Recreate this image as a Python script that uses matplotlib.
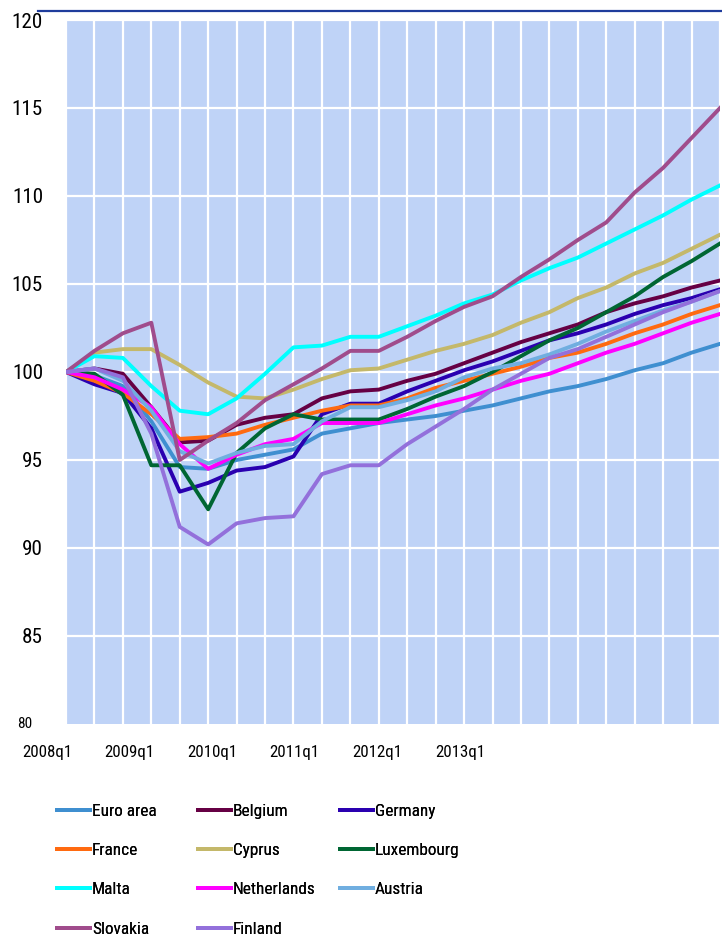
import matplotlib
matplotlib.use("Agg")
import matplotlib.pyplot as plt
from matplotlib.lines import Line2D
from matplotlib import font_manager as fm
import numpy as np

quarters = ['2008q1', '2008q2', '2008q3', '2008q4', '2009q1', '2009q2', '2009q3', '2009q4',
            '2010q1', '2010q2', '2010q3', '2010q4', '2011q1', '2011q2', '2011q3', '2011q4',
            '2012q1', '2012q2', '2012q3', '2012q4', '2013q1', '2013q2', '2013q3', '2013q4']
x_labels = ['2008q1', '2009q1', '2010q1', '2011q1', '2012q1', '2013q1']
y_ticks = [80, 85, 90, 95, 100, 105, 110, 115, 120]

euro_area = [100, 99.8, 99.2, 97.2, 94.6, 94.5, 95.0, 95.3, 95.6, 96.5, 96.8, 97.1,
             97.3, 97.5, 97.8, 98.1, 98.5, 98.9, 99.2, 99.6, 100.1, 100.5, 101.1, 101.6]
belgium = [100, 100.2, 99.9, 98.0, 96.0, 96.1, 97.0, 97.4, 97.6, 98.5, 98.9, 99.0,
           99.5, 99.9, 100.5, 101.1, 101.7, 102.2, 102.7, 103.4, 103.9, 104.3, 104.8, 105.2]
germany = [100, 99.3, 98.8, 96.8, 93.2, 93.7, 94.4, 94.6, 95.2, 97.6, 98.2, 98.2,
           98.9, 99.5, 100.1, 100.6, 101.2, 101.8, 102.2, 102.7, 103.3, 103.8, 104.2, 104.7]
france = [100, 99.5, 98.8, 97.6, 96.2, 96.3, 96.5, 97.0, 97.4, 97.8, 98.1, 98.1,
          98.5, 99.1, 99.5, 99.9, 100.3, 100.8, 101.1, 101.6, 102.2, 102.7, 103.3, 103.8]
cyprus = [100, 101.1, 101.3, 101.3, 100.4, 99.4, 98.6, 98.5, 99.0, 99.6, 100.1, 100.2,
          100.7, 101.2, 101.6, 102.1, 102.8, 103.4, 104.2, 104.8, 105.6, 106.2, 107.0, 107.8]
luxembourg = [100, 99.9, 98.7, 94.7, 94.7, 92.2, 95.4, 96.8, 97.6, 97.3, 97.3, 97.3,
              97.9, 98.6, 99.2, 100.0, 100.9, 101.8, 102.5, 103.4, 104.3, 105.4, 106.3, 107.3]
malta = [100, 100.9, 100.8, 99.2, 97.8, 97.6, 98.5, 99.9, 101.4, 101.5, 102.0, 102.0,
         102.6, 103.2, 103.9, 104.4, 105.2, 105.9, 106.5, 107.3, 108.1, 108.9, 109.8, 110.6]
netherlands = [100, 99.7, 99.0, 98.0, 95.9, 94.5, 95.3, 95.9, 96.2, 97.1, 97.1, 97.1,
               97.6, 98.1, 98.5, 99.0, 99.5, 99.9, 100.5, 101.1, 101.6, 102.2, 102.8, 103.3]
austria = [100, 100.2, 99.5, 97.8, 95.5, 94.8, 95.4, 95.8, 95.9, 97.2, 98.0, 98.0,
           98.4, 98.9, 99.7, 100.2, 100.5, 101.0, 101.6, 102.3, 102.9, 103.5, 104.0, 104.6]
slovakia = [100, 101.2, 102.2, 102.8, 95.0, 96.1, 97.1, 98.4, 99.3, 100.2, 101.2, 101.2,
            102.0, 102.9, 103.7, 104.3, 105.4, 106.4, 107.5, 108.5, 110.2, 111.6, 113.3, 115.0]
finland = [100, 100.2, 99.7, 96.5, 91.2, 90.2, 91.4, 91.7, 91.8, 94.2, 94.7, 94.7,
           95.9, 96.9, 97.9, 99.0, 99.9, 100.8, 101.3, 102.0, 102.7, 103.4, 104.0, 104.6]

series = [
    ('Euro area', euro_area, '#3F8FD0'),
    ('Belgium', belgium, '#660044'),
    ('Germany', germany, '#2A00B0'),
    ('France', france, '#FF6A10'),
    ('Cyprus', cyprus, '#C4B86A'),
    ('Luxembourg', luxembourg, '#006633'),
    ('Malta', malta, '#00FFFF'),
    ('Netherlands', netherlands, '#FF00FF'),
    ('Austria', austria, '#70AEE0'),
    ('Slovakia', slovakia, '#A04C8C'),
    ('Finland', finland, '#9370DB'),
]

# ---- font choice: prefer a narrow humanist face
names = {f.name for f in fm.fontManager.ttflist}
prefs = ['Roboto Condensed', 'Liberation Sans Narrow', 'Open Sans Condensed',
         'Noto Sans Condensed', 'Arial Narrow', 'Lato']
family = next((p for p in prefs if p in names), 'DejaVu Sans')
plt.rcParams['font.family'] = [family, 'DejaVu Sans']

W, H = 722, 940
fig = plt.figure(figsize=(W / 100, H / 100), dpi=100)
renderer = fig.canvas.get_renderer()


def fit_size(text, target_px, max_pt):
    t = fig.text(0, 0, text, fontsize=max_pt)
    w = t.get_window_extent(renderer).width
    t.remove()
    return min(max_pt, max_pt * target_px / w)


ytick_fs = fit_size('120', 32, 15.2)
xtick_fs = fit_size('2008q1', 50, 13.0)
small_fs = fit_size('80', 17, 11)
leg_fs = fit_size('Luxembourg', 85, 13.2)

ax = fig.add_axes([66 / W, 1 - 724 / H, 654 / W, 704 / H])
ax.set_facecolor('#BFD3F7')
for s in ax.spines.values():
    s.set_visible(False)

x = np.arange(len(quarters))
handles = {}
for name, vals, col in series:
    ln, = ax.plot(x, vals, color=col, lw=2.8, solid_joinstyle='round', label=name, zorder=3)
    handles[name] = ln

ax.set_xlim(0, len(quarters) - 1)
ax.set_ylim(y_ticks[0], y_ticks[-1])
ax.set_xticks(x)
ax.set_xticklabels([])
ax.set_yticks(y_ticks[1:])
ax.set_yticklabels([str(v) for v in y_ticks[1:]], fontsize=ytick_fs)
ax.tick_params(axis='both', length=0)
ax.tick_params(axis='y', pad=23 * 0.72)
ax.grid(True, color='white', lw=1.6, zorder=1)
ax.set_axisbelow(True)

# bottom "80" label (smaller in the reference)
ax.text(-34 / 654, y_ticks[0], str(y_ticks[0]), transform=ax.get_yaxis_transform(),
        ha='right', va='center', fontsize=small_fs)

# x category labels
for i, lab in enumerate(x_labels):
    ax.text(-19 / 654 + i * 82.6 / 654, -28 / 704, lab, transform=ax.transAxes,
            ha='center', va='center', fontsize=xtick_fs)

# top dark line
fig.add_artist(Line2D([38 / W, 1.0], [1 - 10.5 / H, 1 - 10.5 / H], color='#1F3C9C', lw=1.6))

# legend: three fixed-width columns
cols = [['Euro area', 'France', 'Malta', 'Slovakia'],
        ['Belgium', 'Cyprus', 'Netherlands', 'Finland'],
        ['Germany', 'Luxembourg', 'Austria']]
col_x = [57, 198, 340]
fs_px = leg_fs / 72 * 100
for cx, nm in zip(col_x, cols):
    leg = fig.legend([handles[n] for n in nm], nm, loc='upper left',
                     bbox_to_anchor=(cx / W, 1 - 804 / H), frameon=False, fontsize=leg_fs,
                     handlelength=33 / fs_px, handletextpad=2 / fs_px,
                     labelspacing=(39.3 - 0.88 * fs_px) / fs_px,
                     borderpad=0, borderaxespad=0)
    fig.add_artist(leg)

fig.savefig('out.png', dpi=100)
